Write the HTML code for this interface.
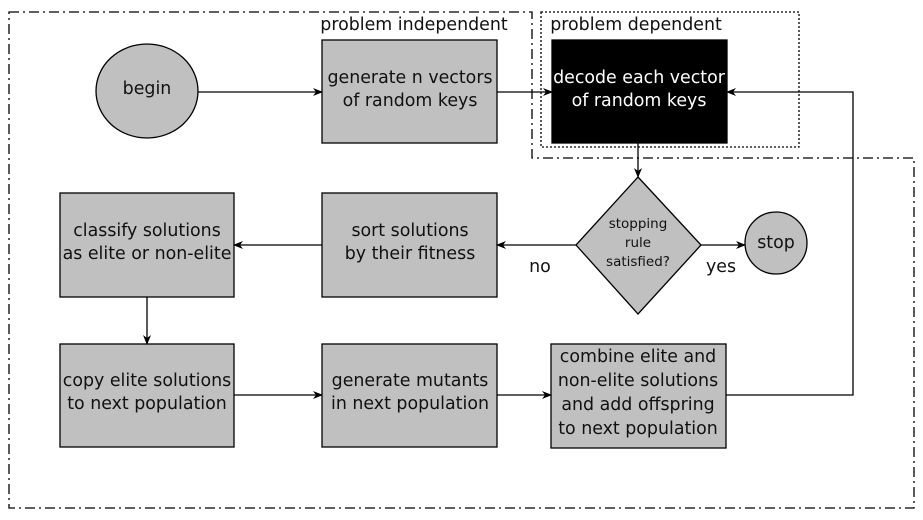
<!DOCTYPE html>
<html><head><meta charset="utf-8"><style>body{margin:0;background:#fff}svg text{font-family:"DejaVu Sans","Liberation Sans",sans-serif;}</style></head>
<body>
<svg width="923" height="515" viewBox="0 0 923 515" xmlns="http://www.w3.org/2000/svg">
<defs><marker id="a" markerWidth="10" markerHeight="8" refX="9" refY="4" orient="auto" markerUnits="userSpaceOnUse"><path d="M0,0 L10,4 L0,8 L3,4z" fill="#000"/></marker></defs>
<g fill="none" stroke="#000" stroke-width="1.3">
<path d="M9,12 H532 V158 H914 V508 H9 Z" stroke-dasharray="10,4,2,4"/>
<rect x="541" y="12" width="258" height="135" stroke-dasharray="2,2"/>
</g>
<g stroke="#000" stroke-width="1.3" fill="#c0c0c0">
<ellipse cx="147" cy="91" rx="51" ry="47"/>
<rect x="322" y="40" width="175" height="103"/>
<rect x="552" y="40" width="175" height="103" fill="#000"/>
<polygon points="638,177 701,245 638,314 576,245"/>
<circle cx="776" cy="243" r="31"/>
<rect x="60" y="193" width="174" height="104"/>
<rect x="322" y="193" width="175" height="104"/>
<rect x="60" y="344" width="174" height="103"/>
<rect x="322" y="344" width="175" height="103"/>
<rect x="551" y="344" width="175" height="104"/>
</g>
<g stroke="#000" stroke-width="1.3" fill="none" marker-end="url(#a)">
<path d="M198,92 H322"/>
<path d="M497,92 H552"/>
<path d="M638,143 V177"/>
<path d="M701,245 H745"/>
<path d="M576,245 H497"/>
<path d="M322,245 H234"/>
<path d="M147,297 V344"/>
<path d="M234,395 H322"/>
<path d="M497,395 H551"/>
<path d="M726,395 H853 V92 H727"/>
</g>
<g font-size="17.4" fill="#111" text-anchor="middle">
<text x="147" y="94">begin</text>
<text x="414" y="30">problem independent</text>
<text x="636" y="30" >problem dependent</text>
<text x="410" y="83">generate n vectors</text>
<text x="410" y="106">of random keys</text>
<text x="639" y="83" fill="#fff">decode each vector</text>
<text x="639" y="106" fill="#fff">of random keys</text>
<text x="776" y="248">stop</text>
<text x="147" y="236">classify solutions</text>
<text x="147" y="259">as elite or non-elite</text>
<text x="410" y="236">sort solutions</text>
<text x="410" y="259">by their fitness</text>
<text x="540" y="272">no</text>
<text x="721" y="272">yes</text>
<text x="147" y="386">copy elite solutions</text>
<text x="147" y="409">to next population</text>
<text x="410" y="386">generate mutants</text>
<text x="410" y="409">in next population</text>
<text x="638" y="362">combine elite and</text>
<text x="638" y="386">non-elite solutions</text>
<text x="638" y="410">and add offspring</text>
<text x="638" y="434">to next population</text>
</g>
<g font-size="13.5" fill="#111" text-anchor="middle">
<text x="638" y="228">stopping</text>
<text x="638" y="247">rule</text>
<text x="638" y="266">satisfied?</text>
</g>
</svg>
</body></html>
